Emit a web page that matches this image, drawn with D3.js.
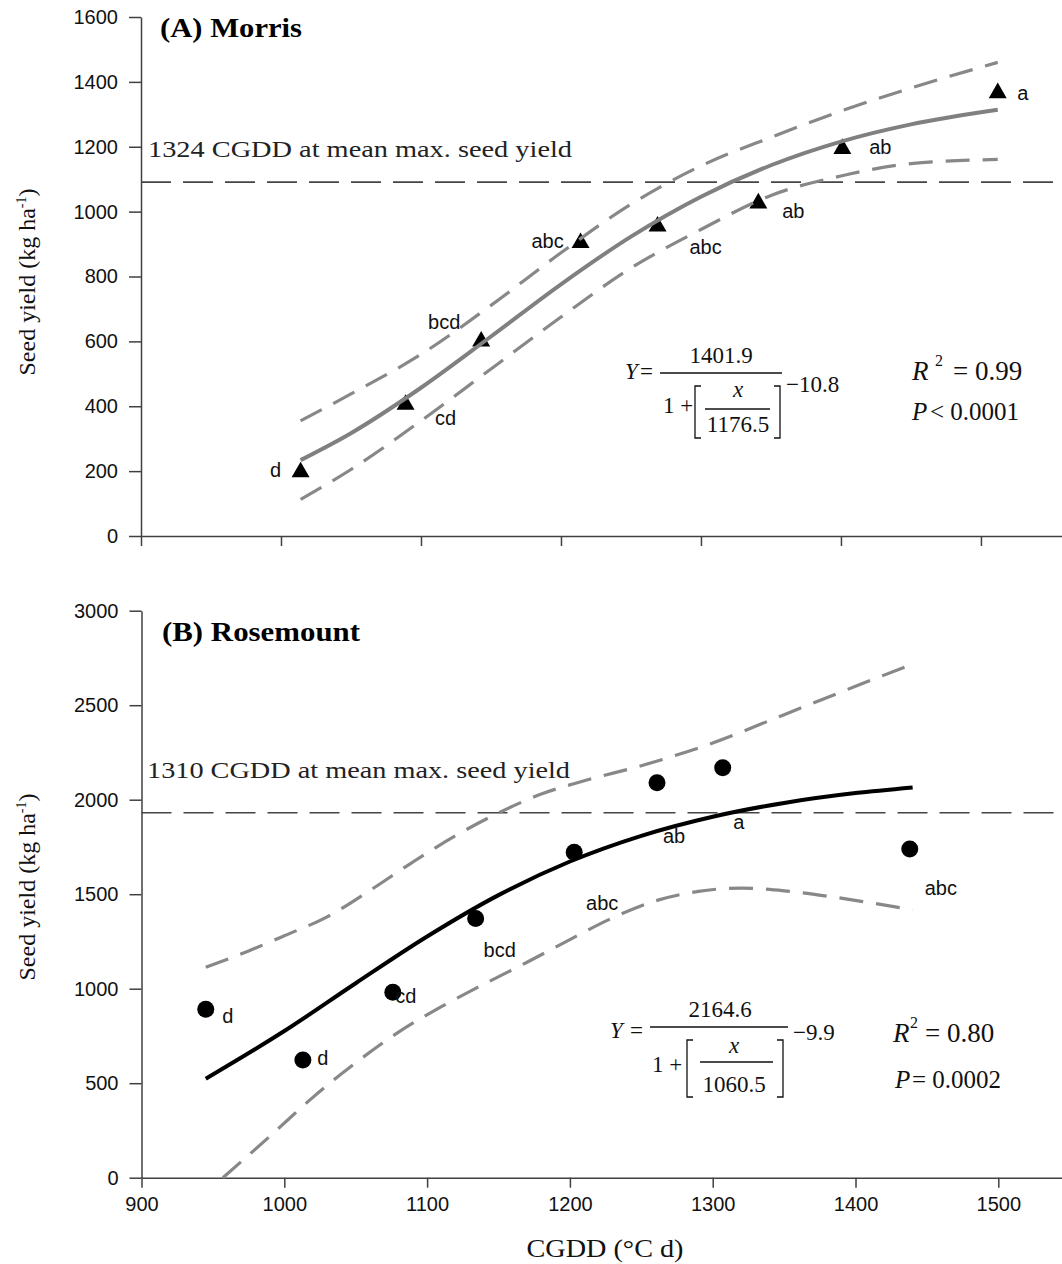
<!DOCTYPE html>
<html>
<head>
<meta charset="utf-8">
<script src="https://cdn.jsdelivr.net/npm/d3@7"></script>
<style>body{margin:0;background:#fff}</style>
</head>
<body>
<svg></svg>
<script>
var WIDTH = 1062;
var HEIGHT = 1264;
var SERIF = "'Liberation Serif', 'Times New Roman', serif";
var SANS = "'Liberation Sans', Arial, sans-serif";

// (A) Morris: observed means, separation letters, fitted curve and 95% band
var morrisCgdd = [1014, 1089, 1143, 1214, 1269, 1341, 1401, 1512];
var morrisYield = [203, 411, 606, 910, 961, 1032, 1200, 1372];
var morrisLetters = ["d", "cd", "bcd", "abc", "abc", "ab", "ab", "a"];
var morrisCurveCgdd = [1014, 1050, 1100, 1150, 1200, 1250, 1300, 1350, 1400, 1450, 1512];
var morrisFit = [234, 317, 457, 615, 776, 923, 1046, 1143, 1216, 1269, 1314];
var morrisUpper = [355, 438, 560, 711, 873, 1023, 1141, 1229, 1310, 1381, 1460];
var morrisLower = [113, 205, 355, 515, 675, 826, 945, 1050, 1110, 1148, 1161];
var morrisMaxLine = 1091;
var morrisEq = ["1401.9", "1176.5", "\u221210.8"];
var morrisStats = ["= 0.99", "< 0.0001"];

// (B) Rosemount
var roseCgdd = [945, 1013, 1076, 1134, 1203, 1261, 1307, 1438];
var roseYield = [891, 623, 981, 1372, 1722, 2090, 2169, 1739];
var roseLetters = ["d", "d", "cd", "bcd", "abc", "ab", "a", "abc"];
var roseCurveCgdd = [945, 1000, 1050, 1100, 1150, 1200, 1250, 1300, 1350, 1400, 1440];
var roseFit = [524, 776, 1029, 1276, 1495, 1673, 1809, 1910, 1983, 2035, 2065];
var roseUpperCgdd = [945, 975, 1000, 1030, 1060, 1090, 1120, 1150, 1180, 1210, 1250, 1300, 1350, 1400, 1440];
var roseUpper = [1113, 1200, 1280, 1380, 1520, 1670, 1810, 1930, 2030, 2100, 2180, 2300, 2450, 2600, 2718];
var roseLowerCgdd = [957, 990, 1020, 1050, 1080, 1110, 1140, 1170, 1200, 1230, 1260, 1290, 1320, 1350, 1380, 1410, 1440];
var roseLower = [0, 220, 425, 608, 770, 905, 1025, 1140, 1260, 1375, 1465, 1515, 1532, 1518, 1490, 1455, 1418];
var roseMaxLine = 1931;
var roseEq = ["2164.6", "1060.5", "\u22129.9"];
var roseStats = ["= 0.80", "= 0.0002"];

var xTicks = [900, 1000, 1100, 1200, 1300, 1400, 1500];
var yTicksA = [0, 200, 400, 600, 800, 1000, 1200, 1400, 1600];
var yTicksB = [0, 500, 1000, 1500, 2000, 2500, 3000];

// label nudges (px) for the letters beside each point
var nudgeA = [[-25, 0], [40, 15], [-37, -17], [-33, 0], [48, 23], [35, 10], [38, 0], [25, 2]];
var nudgeB = [[22, 7], [20, -2], [13, 4], [24, 32], [28, 51], [17, 53], [16, 54], [31, 39]];

var svg = d3.select("svg")
    .attr("width", WIDTH)
    .attr("height", HEIGHT);

var xA = d3.scaleLinear().domain([900, 1557.9]).range([141, 1062]);
var yA = d3.scaleLinear().domain([0, 1600]).range([536, 17]);
var xB = d3.scaleLinear().domain([900, 1544.6]).range([141.5, 1062]);
var yB = d3.scaleLinear().domain([0, 3000]).range([1177.7, 610.7]);

function drawAxes(x, y, yTicks, xLabels) {
    var gy = svg.append("g")
        .attr("transform", "translate(" + x.range()[0] + ",0)")
        .call(d3.axisLeft(y).tickValues(yTicks).tickFormat(d3.format("d"))
            .tickSize(12).tickPadding(11).tickSizeOuter(0));
    var gx = svg.append("g")
        .attr("transform", "translate(0," + y.range()[0] + ")")
        .call(d3.axisBottom(x).tickValues(xTicks).tickFormat(d3.format("d"))
            .tickSize(10).tickPadding(9).tickSizeOuter(0));
    if (!xLabels) gx.selectAll("text").remove();
    [gy, gx].forEach(function(g) {
        g.selectAll("path, line").attr("stroke", "#404040").attr("stroke-width", 1.5);
        g.selectAll("text").attr("fill", "#111").style("font-family", SANS).style("font-size", "20px");
    });
}

function curve(x, y, xs, ys) {
    return d3.line()
        .x(function(d, i) { return x(xs[i]); })
        .y(function(d) { return y(d); })
        .curve(d3.curveMonotoneX)(ys);
}

function drawPanel(x, y, cg, yl, letters, nudge, marker, cx, fit, fitColor, upX, up, loX, lo, maxLine) {
    // reference line of mean max seed yield
    svg.append("line")
        .attr("x1", x.range()[0]).attr("x2", x.range()[1])
        .attr("y1", y(maxLine)).attr("y2", y(maxLine))
        .attr("stroke", "#444").attr("stroke-width", 1.6)
        .attr("stroke-dasharray", "30,12");

    var pts = svg.append("g");
    cg.forEach(function(v, i) {
        if (marker === "tri") {
            pts.append("path")
                .attr("d", d3.symbol(d3.symbolTriangle, 140)())
                .attr("transform", "translate(" + x(v) + "," + (y(yl[i]) + 2) + ")")
                .attr("fill", "#000");
        } else {
            pts.append("circle")
                .attr("cx", x(v)).attr("cy", y(yl[i])).attr("r", 8.5)
                .attr("fill", "#000");
        }
        pts.append("text")
            .attr("x", x(v) + nudge[i][0]).attr("y", y(yl[i]) + nudge[i][1])
            .attr("dy", "0.35em").attr("text-anchor", "middle")
            .style("font-family", SANS).style("font-size", "20px").attr("fill", "#111")
            .text(letters[i]);
    });

    [[upX, up], [loX, lo]].forEach(function(b) {
        svg.append("path")
            .attr("d", curve(x, y, b[0], b[1]))
            .attr("fill", "none").attr("stroke", "#888").attr("stroke-width", 3.2)
            .attr("stroke-dasharray", "24,13");
    });
    svg.append("path")
        .attr("d", curve(x, y, cx, fit))
        .attr("fill", "none").attr("stroke", fitColor).attr("stroke-width", 4);
}

function drawEquation(p, nums, stats) {
    var g = svg.append("g").style("font-family", SERIF).attr("fill", "#111");
    function t(xp, yp, s, size, opts) {
        var e = g.append("text").attr("x", xp).attr("y", yp).style("font-size", size + "px").text(s);
        if (opts && opts.italic) e.style("font-style", "italic");
        if (opts && opts.mid) e.attr("text-anchor", "middle");
        return e;
    }
    function bar(x1, x2, yy) {
        g.append("line").attr("x1", x1).attr("x2", x2).attr("y1", yy).attr("y2", yy)
            .attr("stroke", "#111").attr("stroke-width", 1.3);
    }
    t(p.yX, p.base, "Y", 23, {italic: true});
    t(p.eqX, p.base, "=", 23);
    t(p.numX, p.numBase, nums[0], 23, {mid: true});
    bar(p.bar[0], p.bar[1], p.bar[2]);
    t(p.oneX, p.oneBase, "1 +", 23);
    var b = p.brk;
    g.append("path")
        .attr("d", "M" + (b[0] + 6) + "," + b[2] + "H" + b[0] + "V" + b[3] + "H" + (b[0] + 6) +
                   "M" + (b[1] - 6) + "," + b[2] + "H" + b[1] + "V" + b[3] + "H" + (b[1] - 6))
        .attr("fill", "none").attr("stroke", "#111").attr("stroke-width", 1.3);
    t(p.xX, p.xBase, "x", 23, {italic: true, mid: true});
    bar(p.ibar[0], p.ibar[1], p.ibar[2]);
    t(p.xX, p.denBase, nums[1], 23, {mid: true});
    t(p.expX, p.expBase, nums[2], 23);

    t(p.rX, p.rBase, "R", 27, {italic: true});
    t(p.r2X, p.rBase - 14, "2", 16);
    t(p.rEqX, p.rBase, stats[0], 27);
    t(p.pX, p.pBase, "P", 25, {italic: true});
    t(p.pEqX, p.pBase, stats[1], 25);
}

drawAxes(xA, yA, yTicksA, false);
drawAxes(xB, yB, yTicksB, true);

drawPanel(xA, yA, morrisCgdd, morrisYield, morrisLetters, nudgeA, "tri",
    morrisCurveCgdd, morrisFit, "#808080", morrisCurveCgdd, morrisUpper, morrisCurveCgdd, morrisLower, morrisMaxLine);
drawPanel(xB, yB, roseCgdd, roseYield, roseLetters, nudgeB, "dot",
    roseCurveCgdd, roseFit, "#000", roseUpperCgdd, roseUpper, roseLowerCgdd, roseLower, roseMaxLine);

// panel titles and reference-line notes
svg.append("text").attr("x", 160).attr("y", 37).text("(A) Morris")
    .attr("textLength", 142).attr("lengthAdjust", "spacingAndGlyphs")
    .style("font-family", SERIF).style("font-size", "28px").style("font-weight", "bold");
svg.append("text").attr("x", 162).attr("y", 641).text("(B) Rosemount")
    .attr("textLength", 198).attr("lengthAdjust", "spacingAndGlyphs")
    .style("font-family", SERIF).style("font-size", "28px").style("font-weight", "bold");
svg.append("text").attr("x", 148).attr("y", 157).text("1324 CGDD at mean max. seed yield")
    .attr("textLength", 424).attr("lengthAdjust", "spacingAndGlyphs")
    .style("font-family", SERIF).style("font-size", "24px").attr("fill", "#222");
svg.append("text").attr("x", 147).attr("y", 778).text("1310 CGDD at mean max. seed yield")
    .attr("textLength", 423).attr("lengthAdjust", "spacingAndGlyphs")
    .style("font-family", SERIF).style("font-size", "24px").attr("fill", "#222");

drawEquation({yX: 625, base: 379, eqX: 640, numX: 721, numBase: 363, bar: [660, 782, 373],
    oneX: 663, oneBase: 413, brk: [695, 780, 386, 438], xX: 738, xBase: 397, ibar: [705, 770, 409],
    denBase: 432, expX: 786, expBase: 392,
    rX: 912, r2X: 935, rEqX: 953, rBase: 380, pX: 912, pEqX: 930, pBase: 420}, morrisEq, morrisStats);
drawEquation({yX: 610, base: 1038, eqX: 630, numX: 720, numBase: 1017, bar: [650, 788, 1027],
    oneX: 652, oneBase: 1072, brk: [687, 783, 1040, 1097], xX: 734, xBase: 1053, ibar: [700, 773, 1062],
    denBase: 1092, expX: 793, expBase: 1040,
    rX: 893, r2X: 910, rEqX: 925, rBase: 1042, pX: 895, pEqX: 912, pBase: 1088}, roseEq, roseStats);

// axis titles
function yTitle(cx, cy) {
    var t = svg.append("text")
        .attr("transform", "translate(" + cx + "," + cy + ") rotate(-90)")
        .attr("text-anchor", "middle")
        .style("font-family", SERIF).style("font-size", "24px").attr("fill", "#111");
    t.append("tspan").text("Seed yield (kg ha");
    t.append("tspan").attr("dy", -9).style("font-size", "14px").text("-1");
    t.append("tspan").attr("dy", 9).text(")");
}
yTitle(35, 282);
yTitle(35, 887);

svg.append("text").attr("x", 605).attr("y", 1257).attr("text-anchor", "middle")
    .text("CGDD (\u00B0C d)")
    .attr("textLength", 157).attr("lengthAdjust", "spacingAndGlyphs")
    .style("font-family", SERIF).style("font-size", "26px").attr("fill", "#111");
</script>
</body>
</html>
